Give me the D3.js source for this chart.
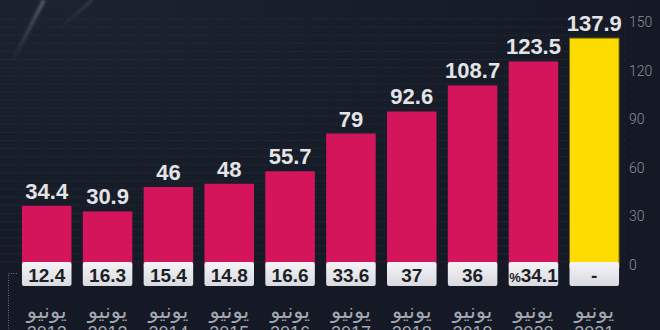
<!DOCTYPE html>
<html>
<head>
<meta charset="utf-8">
<script src="https://cdn.jsdelivr.net/npm/d3@7"></script>
<style>
  html, body { margin: 0; padding: 0; background: #151a26; }
  svg { display: block; }
</style>
</head>
<body>
<div id="chart"></div>
<script>
// values
const years = ["2012", "2013", "2014", "2015", "2016", "2017", "2018", "2019", "2020", "2021"];
const month = "يونيو";
const values = [34.4, 30.9, 46, 48, 55.7, 79, 92.6, 108.7, 123.5, 137.9];
const changes = ["12.4", "16.3", "15.4", "14.8", "16.6", "33.6", "37", "36", "%34.1", "-"];
const yTicks = [0, 30, 60, 90, 120, 150];

const width = 660;
const height = 330;

const svg = d3.select("#chart")
              .append("svg")
              .attr("width", width)
              .attr("height", height);

const defs = svg.append("defs");

const bg = defs.append("radialGradient")
               .attr("id", "bg")
               .attr("cx", "0.1").attr("cy", "0").attr("r", "0.9");
bg.append("stop").attr("offset", "0").attr("stop-color", "#1c2230");
bg.append("stop").attr("offset", "1").attr("stop-color", "#141925");

const boxGrad = defs.append("linearGradient")
                    .attr("id", "box")
                    .attr("x1", 0).attr("y1", 0).attr("x2", 0).attr("y2", 1);
boxGrad.append("stop").attr("offset", "0").attr("stop-color", "#f4f4f7");
boxGrad.append("stop").attr("offset", "1").attr("stop-color", "#d9dae0");

const streak = defs.append("linearGradient")
                   .attr("id", "streak")
                   .attr("x1", 0).attr("y1", 0).attr("x2", 0).attr("y2", 1);
streak.append("stop").attr("offset", "0").attr("stop-color", "#aab0bd").attr("stop-opacity", 0.5);
streak.append("stop").attr("offset", "1").attr("stop-color", "#aab0bd").attr("stop-opacity", 0);

defs.append("filter").attr("id", "blur")
    .append("feGaussianBlur").attr("stdDeviation", 1.5);

svg.append("rect")
   .attr("width", width)
   .attr("height", height)
   .attr("fill", "url(#bg)");

// light streaks top left
svg.append("path")
   .attr("d", "M44,0 L12,62")
   .attr("stroke", "url(#streak)")
   .attr("stroke-width", 3)
   .attr("fill", "none")
   .attr("filter", "url(#blur)");
svg.append("path")
   .attr("d", "M92,0 L58,30")
   .attr("stroke", "url(#streak)")
   .attr("stroke-width", 2)
   .attr("opacity", 0.6)
   .attr("fill", "none")
   .attr("filter", "url(#blur)");

const xScale = d3.scaleBand()
                 .domain(years)
                 .range([16.3, 624.7])
                 .paddingInner(0.186)
                 .paddingOuter(0.093);

const yScale = d3.scaleLinear()
                 .domain([0, 150])
                 .range([261.5, 18.5]);

// faint dotted grid
svg.append("g")
   .selectAll("line")
   .data(yScale.ticks(30))
   .enter()
   .append("line")
   .attr("x1", 0)
   .attr("x2", 626)
   .attr("y1", d => yScale(d) + 0.5)
   .attr("y2", d => yScale(d) + 0.5)
   .attr("stroke", "#2c3342")
   .attr("stroke-width", 1)
   .attr("stroke-dasharray", "1,2");

// y axis on the right
const yAxis = d3.axisRight(yScale)
                .tickValues(yTicks)
                .tickSize(0)
                .tickPadding(0);

svg.append("g")
   .attr("transform", "translate(629, 3.5)")
   .call(yAxis)
   .call(g => g.select(".domain").remove())
   .selectAll("text")
   .style("font-family", "Roboto")
   .style("font-weight", 300)
   .style("font-size", "14px")
   .attr("fill", "#8b8f99");

// bars
svg.append("g")
   .selectAll("rect")
   .data(values)
   .enter()
   .append("rect")
   .attr("x", (d, i) => xScale(years[i]))
   .attr("y", d => yScale(d))
   .attr("width", xScale.bandwidth())
   .attr("height", d => yScale(0) - yScale(d) + 6)
   .attr("fill", (d, i) => i === values.length - 1 ? "#ffdc00" : "#d4155b")
   .attr("stroke", (d, i) => i === values.length - 1 ? "#7a6a12" : "none")
   .attr("stroke-width", 1);

// value labels
svg.append("g")
   .selectAll("text")
   .data(values)
   .enter()
   .append("text")
   .attr("x", (d, i) => xScale(years[i]) + xScale.bandwidth() / 2)
   .attr("y", d => yScale(d) - 7)
   .attr("text-anchor", "middle")
   .style("font-family", "'Liberation Sans', Arial, sans-serif")
   .style("font-weight", "bold")
   .style("font-size", "22px")
   .attr("fill", "#e4e4e6")
   .text(d => d);

// change boxes
const boxes = svg.append("g")
                 .selectAll("g")
                 .data(changes)
                 .enter()
                 .append("g")
                 .attr("transform", (d, i) => `translate(${xScale(years[i])}, 262)`);

boxes.append("rect")
     .attr("width", xScale.bandwidth())
     .attr("height", 24)
     .attr("rx", 2)
     .attr("fill", "url(#box)");

boxes.append("text")
     .attr("x", xScale.bandwidth() / 2)
     .attr("y", 19.5)
     .attr("text-anchor", "middle")
     .style("font-family", "'Liberation Sans', Arial, sans-serif")
     .style("font-weight", "bold")
     .style("font-size", "19px")
     .attr("fill", "#1c1f26")
     .each(function (d) {
       const t = d3.select(this);
       if (d.startsWith("%")) {
         t.append("tspan").style("font-size", "13px").text("%");
         t.append("tspan").text(d.slice(1));
       } else {
         t.text(d);
       }
     });

// bracket at left
svg.append("path")
   .attr("d", "M17,273.5 H8.5 V330")
   .attr("fill", "none")
   .attr("stroke", "#6d7280")
   .attr("stroke-width", 1)
   .attr("stroke-dasharray", "1,1.5");

// month / year labels
const xLabels = svg.append("g")
                   .selectAll("g")
                   .data(years)
                   .enter()
                   .append("g")
                   .attr("transform", d => `translate(${xScale(d) + xScale.bandwidth() / 2}, 0)`);

xLabels.append("text")
       .attr("y", 318)
       .attr("text-anchor", "middle")
       .attr("direction", "rtl")
       .style("font-family", "'DejaVu Sans', sans-serif")
       .style("font-size", "21px")
       .attr("fill", "#a3a7b0")
       .text(month);

xLabels.append("text")
       .attr("y", 339)
       .attr("text-anchor", "middle")
       .style("font-family", "'Liberation Sans', Arial, sans-serif")
       .style("font-size", "18px")
       .attr("fill", "#a3a7b0")
       .text(d => d);
</script>
</body>
</html>
